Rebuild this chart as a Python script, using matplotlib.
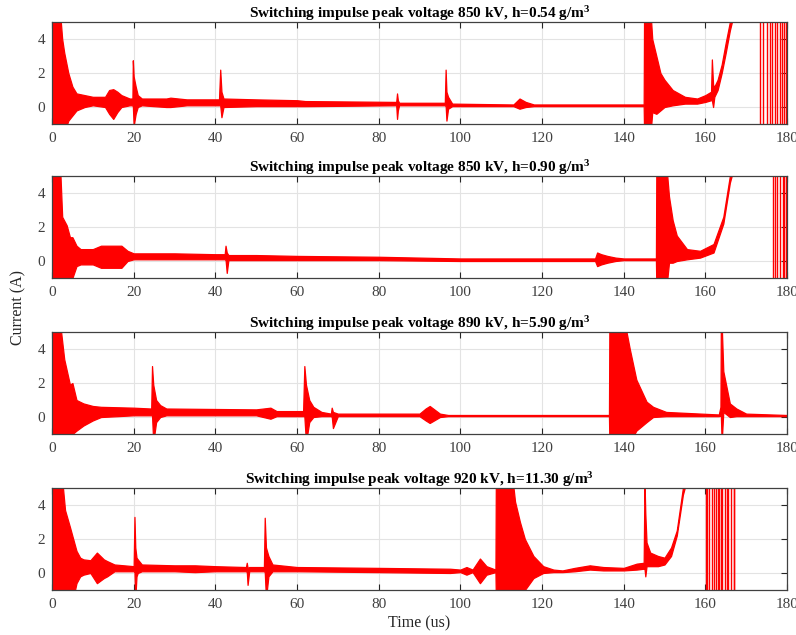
import numpy as np
import matplotlib
matplotlib.use("Agg")
import matplotlib.pyplot as plt

# 包絡線データ: 時刻 [us], 上側, 下側 [A]
t1 = [0, 2.0, 2.5, 3.0, 4.0, 5.0, 6.0, 8.0, 10, 13, 14, 15, 16, 17, 19, 19.7, 19.8, 20.0, 20.5, 21, 22, 28, 29, 33,
      40.9, 41.2, 41.5, 42, 50, 60, 62, 84.3, 84.5, 84.7, 85, 96.2, 96.4, 96.6, 97, 98, 113, 114.5, 116, 118,
      144.9, 145.0, 146.6, 147, 148, 149, 150, 152, 155, 158, 160, 161.4, 161.6, 161.9, 162.2, 163, 164, 165, 166, 167, 173.3]
hi1 = [5.5, 5.5, 4.0, 3.2, 2.0, 1.2, 0.8, 0.7, 0.6, 0.6, 1.0, 1.05, 0.9, 0.7, 0.5, 0.5, 2.75, 1.8, 1.2, 0.7, 0.5, 0.5, 0.55, 0.45,
       0.45, 2.2, 0.9, 0.5, 0.45, 0.4, 0.35, 0.3, 0.8, 0.4, 0.25, 0.25, 2.2, 0.9, 0.6, 0.2, 0.15, 0.5, 0.3, 0.15,
       0.15, 5.5, 5.5, 4.0, 3.0, 2.0, 1.6, 1.0, 0.6, 0.5, 0.7, 0.9, 2.8, 1.3, 1.2, 1.6, 2.5, 3.8, 5.0, 6.0, 6.0]
lo1 = [-1.5, -1.5, -1.5, -1.5, -0.8, -0.5, -0.2, 0.0, 0.1, 0.0, -0.4, -0.7, -0.3, 0.0, 0.1, 0.1, 0.1, -1.1, -0.4, 0.0, 0.1, 0.0, 0.0, 0.1,
       0.1, 0.1, -0.6, 0.0, 0.05, 0.05, 0.05, 0.1, -0.7, -0.2, 0.1, 0.1, 0.1, -0.8, -0.1, 0.05, 0.05, -0.1, 0.0, 0.05,
       0.05, -1.5, -1.5, -0.3, -0.4, -0.2, 0.0, 0.1, 0.2, 0.2, 0.3, 0.4, 0.4, 0.0, 0.6, 1.0, 2.0, 3.2, 4.5, 5.5, 5.5]
b1 = [173.4, 174.2, 175.0, 175.8, 176.4, 177.0, 177.6, 178.3, 178.8, 179.3, 179.7]

t2 = [0, 2.0, 2.5, 3.6, 4.4, 5.0, 6.0, 7, 10, 12, 17, 18.5, 20, 30, 40, 42.3, 42.5, 42.8, 43.2, 50,
      60, 80, 100, 133, 133.5, 134.5, 136, 138, 140, 147.9, 148.0, 150.5, 151.1, 152, 153, 155.5, 158.7, 162, 164.4, 166, 167, 176.4]
hi2 = [5.5, 5.5, 2.6, 2.1, 1.4, 1.4, 0.9, 0.7, 0.7, 0.9, 0.9, 0.6, 0.45, 0.45, 0.4, 0.4, 0.9, 0.5, 0.35, 0.35,
       0.3, 0.25, 0.15, 0.15, 0.5, 0.4, 0.3, 0.2, 0.15, 0.15, 5.5, 5.5, 3.8, 2.4, 1.5, 0.7, 0.6, 1.0, 2.6, 5.0, 6.0, 6.0]
lo2 = [-1.5, -1.5, -1.5, -1.5, -1.5, -1.0, -0.3, -0.2, -0.2, -0.4, -0.4, 0.0, 0.1, 0.1, 0.1, 0.1, 0.1, -0.7, 0.05, 0.05,
       0.05, 0.05, 0.0, 0.0, -0.3, -0.2, -0.1, 0.0, 0.05, 0.05, -1.5, -1.5, -0.1, -0.1, 0.0, 0.1, 0.2, 0.5, 2.2, 4.6, 5.5, 5.5]
b2 = [176.5, 177.1, 177.6, 178.3, 178.9, 179.3, 179.8]

t3 = [0, 2.0, 3.0, 4.4, 5.0, 6.0, 7.7, 10, 12, 20, 24.3, 24.5, 24.8, 25.5, 26.5, 28, 50, 53.5, 55, 61.5,
      61.8, 62.2, 63, 64, 66, 68.3, 68.5, 68.8, 70, 90, 91.5, 92.5, 95, 97, 136.4, 136.5, 140.3, 141.5, 143.1, 145.6,
      147.2, 150.4, 163.3, 163.7, 163.8, 164.0, 164.4, 166, 167.6, 170, 180]
hi3 = [5.5, 5.5, 3.4, 1.9, 2.0, 1.0, 0.8, 0.65, 0.6, 0.55, 0.5, 3.0, 1.9, 1.0, 0.7, 0.5, 0.45, 0.55, 0.35, 0.35,
       3.0, 1.9, 1.0, 0.6, 0.3, 0.2, 0.55, 0.3, 0.2, 0.2, 0.5, 0.65, 0.2, 0.12, 0.12, 5.5, 5.5, 4.0, 2.2, 0.9,
       0.6, 0.3, 0.15, 0.6, 5.5, 5.5, 2.7, 0.8, 0.5, 0.2, 0.12]
lo3 = [-1.5, -1.5, -1.5, -1.5, -1.0, -0.8, -0.5, -0.2, 0.0, 0.1, 0.1, 0.1, -1.5, -0.3, 0.0, 0.1, 0.1, -0.1, 0.05, 0.05,
       0.05, -1.5, -0.3, 0.0, 0.05, 0.05, 0.05, -0.65, 0.05, 0.05, -0.2, -0.35, 0.0, 0.05, 0.05, -1.5, -1.5, -1.5, -0.8, -0.3,
       0.0, 0.05, 0.05, 0.1, 0.1, -1.5, 0.3, 0.0, 0.05, 0.05, 0.05]
b3 = []

t4 = [0, 2.5, 3.2, 4.4, 5.2, 6.0, 6.9, 7.7, 9.4, 11.0, 12.7, 13.5, 15.3, 20.0, 20.2, 20.4, 20.7, 21, 22, 30,
      35, 40, 47.5, 47.7, 47.9, 48.3, 51.9, 52.1, 52.4, 53, 54, 60, 80, 97.5, 100, 101.5, 103, 104.8, 106.4, 108.6,
      108.7, 112.8, 113.4, 114.6, 115.8, 117.9, 120.3, 122.8, 125, 128, 131.7, 135, 140, 143.2, 144.9, 145.1, 145.3, 145.6, 146.5, 148.4,
      150, 151.6, 153, 154.5, 155.5, 160.1]
hi4 = [5.5, 5.5, 3.7, 2.7, 2.0, 1.3, 0.9, 0.8, 0.75, 1.2, 0.8, 0.7, 0.5, 0.4, 3.3, 1.5, 0.9, 0.8, 0.5, 0.45,
       0.45, 0.4, 0.35, 0.6, 0.3, 0.35, 0.35, 3.25, 1.5, 1.0, 0.5, 0.35, 0.3, 0.25, 0.2, 0.35, 0.2, 0.85, 0.4, 0.2,
       5.5, 5.5, 4.2, 3.0, 2.0, 1.0, 0.4, 0.2, 0.15, 0.3, 0.45, 0.35, 0.3, 0.55, 0.6, 5.5, 3.5, 1.8, 1.2, 1.0,
       0.9, 1.5, 2.5, 5.0, 6.0, 6.0]
lo4 = [-1.5, -1.5, -1.5, -1.5, -1.5, -0.6, -0.2, -0.1, 0.0, -0.6, -0.3, -0.2, 0.1, 0.1, 0.1, -1.5, -0.2, 0.0, 0.1, 0.1,
       0.05, 0.1, 0.1, 0.1, -0.7, 0.1, 0.1, 0.1, -1.5, -0.2, 0.1, 0.1, 0.05, 0.0, 0.05, -0.1, 0.05, -0.6, -0.1, 0.05,
       -1.5, -1.5, -1.5, -1.5, -1.0, -0.3, 0.0, 0.05, 0.05, 0.1, 0.2, 0.15, 0.15, 0.2, 0.25, 0.25, -0.2, 0.4, 0.4, 0.4,
       0.5, 1.0, 2.2, 4.6, 5.5, 5.5]
b4 = [160.2, 160.5, 161.0, 161.6, 162.0, 162.6, 163.0, 163.4, 163.8, 164.2, 164.8, 165.2, 165.6, 166.3, 166.9, 167.1]

titles = [
    "Switching impulse peak voltage 850 kV, h=0.54 g/m$^3$",
    "Switching impulse peak voltage 850 kV, h=0.90 g/m$^3$",
    "Switching impulse peak voltage 890 kV, h=5.90 g/m$^3$",
    "Switching impulse peak voltage 920 kV, h=11.30 g/m$^3$",
]
xticks = list(range(0, 181, 20))
yticks = [0, 2, 4]

plt.rcParams['font.family'] = ['Liberation Serif', 'DejaVu Serif']
plt.rcParams['mathtext.default'] = 'regular'

fig = plt.figure(figsize=(7.96, 6.35), dpi=100)

# 各パネルの位置（図の比率）
left, width, height = 0.0653, 0.9234, 0.1606
bottoms = [0.8047, 0.5622, 0.3165, 0.0709]

panels = [(t1, hi1, lo1, b1), (t2, hi2, lo2, b2), (t3, hi3, lo3, b3), (t4, hi4, lo4, b4)]

for i, (t, hi, lo, bursts) in enumerate(panels):
    ax = fig.add_axes([left, bottoms[i], width, height])
    ax.fill_between(t, lo, hi, color='#ff0000', lw=0.9, edgecolor='#ff0000')
    if bursts:
        ax.vlines(bursts, -2, 7, color='#ff0000', lw=1.0)
    ax.set_xlim(0, 180)
    ax.set_ylim(-1, 5)
    ax.set_xticks(xticks)
    ax.set_yticks(yticks)
    ax.grid(True, color='#e3e3e3', lw=0.8)
    ax.set_axisbelow(True)
    ax.tick_params(direction='in', top=True, right=True, length=4, width=0.8,
                   labelsize=11, labelcolor='#404040', color='#262626')
    ax.tick_params(axis='x', pad=6)
    ax.tick_params(axis='y', pad=5)
    for s in ax.spines.values():
        s.set_color('#404040')
        s.set_linewidth(0.9)
    ax.set_title(titles[i], fontsize=11, fontweight='bold', pad=3)
    if i == 3:
        ax.set_xlabel('Time (us)', fontsize=11.5, color='#262626', labelpad=3)

fig.text(0.0226, 0.516, 'Current (A)', rotation=90, ha='center', va='center',
         fontsize=11.5, color='#262626')

fig.savefig('out.png', dpi=100)
